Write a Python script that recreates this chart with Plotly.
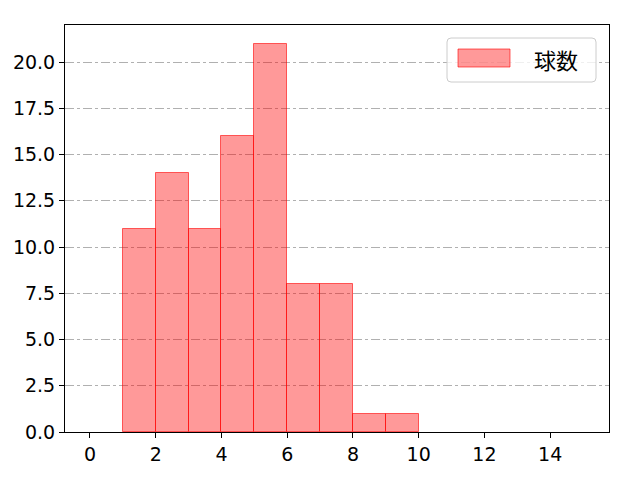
import plotly.graph_objects as go

bin_left = [1, 2, 3, 4, 5, 6, 7, 8, 9]
counts = [11, 14, 11, 16, 21, 8, 8, 1, 1]
series_name = "球数"
x_ticks = [0, 2, 4, 6, 8, 10, 12, 14]
y_ticks = [0, 2.5, 5, 7.5, 10, 12.5, 15, 17.5, 20]

# plot area in pixels (reference)
PL, PR, PT, PB = 65, 609, 25, 432

def px(x):
    return (x - PL) / (PR - PL)

def py(y):
    return (PB - y) / (PB - PT)

fig = go.Figure()
fig.add_trace(go.Bar(
    x=[b + 0.5 for b in bin_left], y=counts, width=1,
    name=series_name, showlegend=False,
    marker=dict(color="rgba(255,0,0,0.4)", line=dict(color="rgba(255,0,0,0.6)", width=1)),
))

# manual legend (matplotlib style)
x0, x1, y0, y1, r = 447, 596, 38, 82, 4
path = (f"M {px(x0+r)} {py(y0)} L {px(x1-r)} {py(y0)} Q {px(x1)} {py(y0)} {px(x1)} {py(y0+r)} "
        f"L {px(x1)} {py(y1-r)} Q {px(x1)} {py(y1)} {px(x1-r)} {py(y1)} "
        f"L {px(x0+r)} {py(y1)} Q {px(x0)} {py(y1)} {px(x0)} {py(y1-r)} "
        f"L {px(x0)} {py(y0+r)} Q {px(x0)} {py(y0)} {px(x0+r)} {py(y0)} Z")
shapes = [
    dict(type="path", xref="paper", yref="paper", path=path,
         fillcolor="rgba(255,255,255,0.8)", line=dict(color="#cccccc", width=1), layer="above"),
    dict(type="rect", xref="paper", yref="paper", x0=px(458), x1=px(510), y0=py(49), y1=py(67),
         fillcolor="rgba(255,0,0,0.4)", line=dict(color="rgba(255,0,0,0.6)", width=1), layer="above"),
]
annotations = [
    dict(xref="paper", yref="paper", x=px(532), y=py(59), xanchor="left", yanchor="middle",
         text=series_name, showarrow=False,
         font=dict(family="Noto Sans CJK JP, sans-serif", size=22, color="black")),
]

font = "DejaVu Sans, Noto Sans CJK JP, sans-serif"
fig.update_layout(
    width=640, height=480,
    margin=dict(l=57, r=39, t=17, b=56),
    paper_bgcolor="white", plot_bgcolor="white",
    font=dict(family=font, size=19, color="black"),
    bargap=0, showlegend=False,
    shapes=shapes, annotations=annotations,
    xaxis=dict(range=[-0.76, 15.79], tickvals=x_ticks, ticktext=[str(v) for v in x_ticks],
               showgrid=False, zeroline=False, showline=True, mirror=True, automargin=False,
               linecolor="black", linewidth=1, ticks="outside", ticklen=5, tickcolor="black"),
    yaxis=dict(range=[0, 22], tickvals=y_ticks, ticktext=[f"{v:.1f}" for v in y_ticks],
               showgrid=True, gridcolor="#b0b0b0", griddash="dashdot", gridwidth=0.8,
               zeroline=False, showline=True, mirror=True, automargin=False,
               linecolor="black", linewidth=1, ticks="outside", ticklen=5, tickcolor="black"),
)
fig.write_html("out.html")
